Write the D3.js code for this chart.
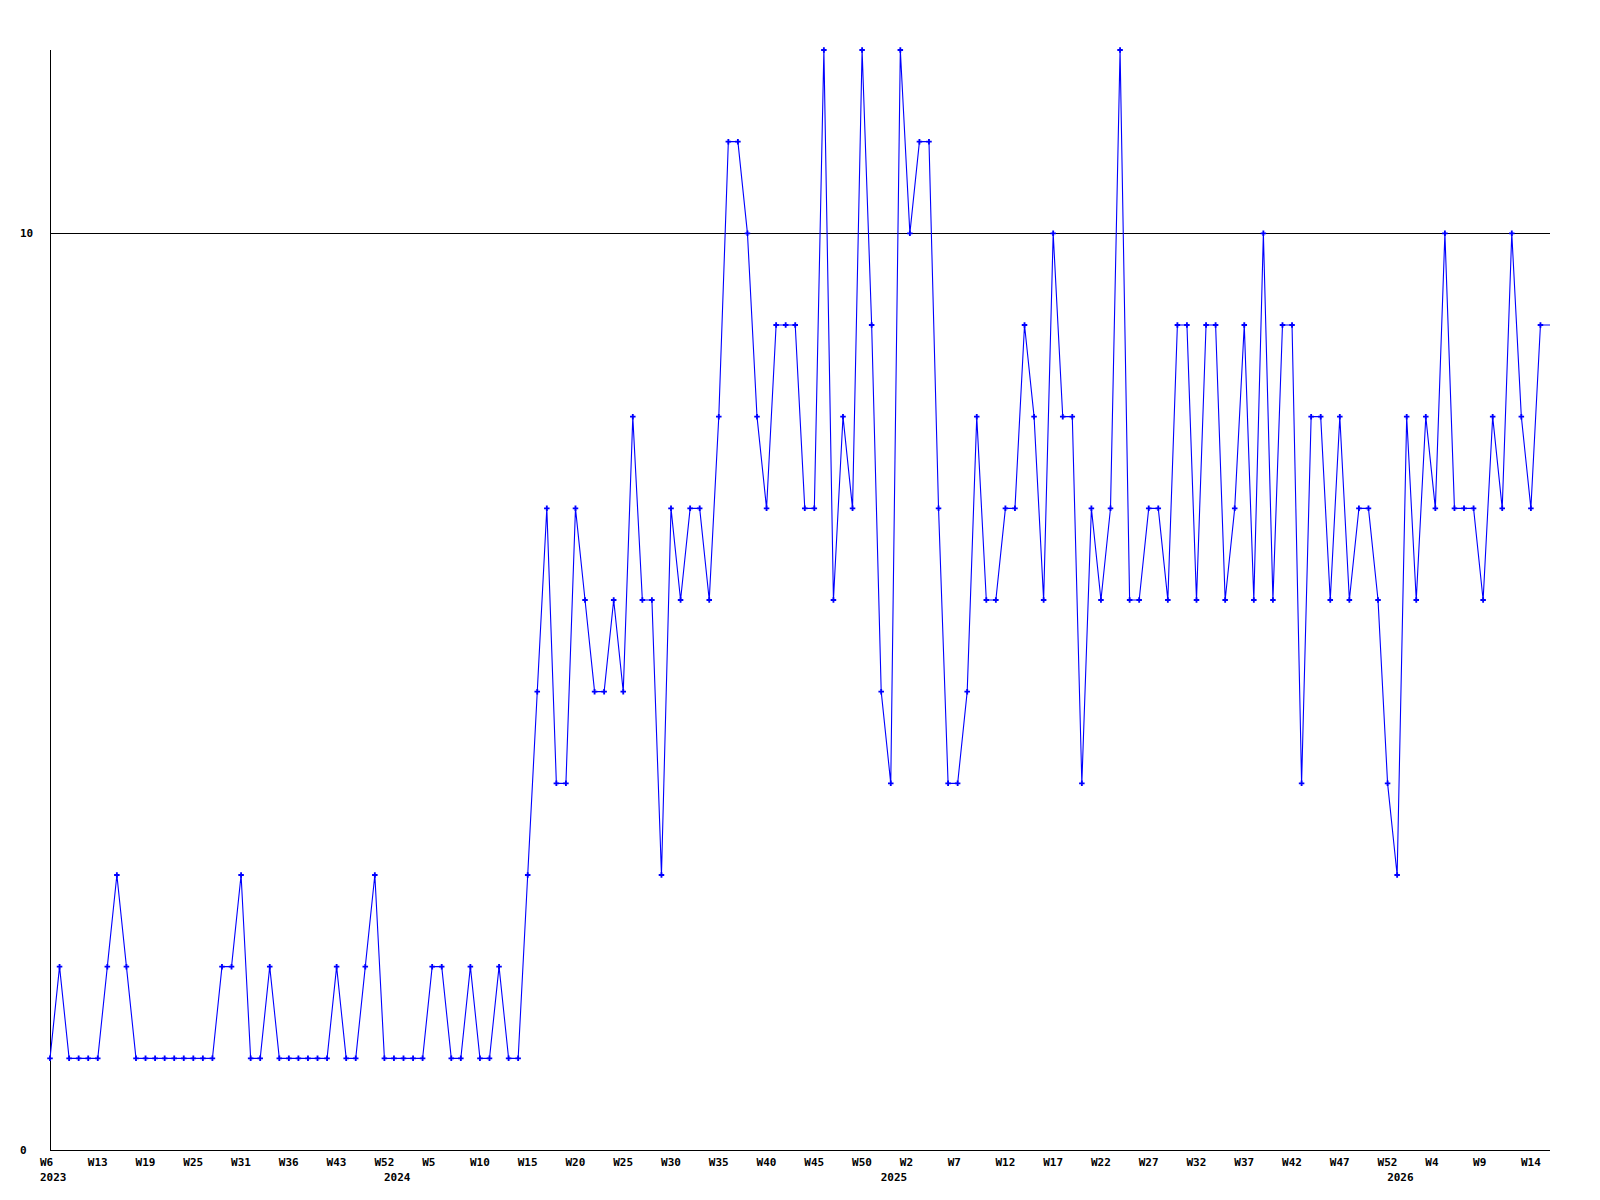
<!DOCTYPE html>
<html>
<head>
<meta charset="utf-8">
<script src="https://cdn.jsdelivr.net/npm/d3@7"></script>
<style>
  html, body { margin: 0; padding: 0; background: #ffffff; }
  svg text { font-family: "DejaVu Sans Mono", "Liberation Mono", monospace; font-weight: bold; font-size: 11px; fill: #000; }
</style>
</head>
<body>
<svg id="chart" width="1600" height="1200"></svg>
<script>
// Weekly values (one point per recorded week)
const values = [
  1,2,1,1,1,1,2,3,2,1,
  1,1,1,1,1,1,1,1,2,2,
  3,1,1,2,1,1,1,1,1,1,
  2,1,1,2,3,1,1,1,1,1,
  2,2,1,1,2,1,1,2,1,1,
  3,5,7,4,4,7,6,5,5,6,
  5,8,6,6,3,7,6,7,7,6,
  8,11,11,10,8,7,9,9,9,7,
  7,12,6,8,7,12,9,5,4,12,
  10,11,11,7,4,4,5,8,6,6,
  7,7,9,8,6,10,8,8,4,7,
  6,7,12,6,6,7,7,6,9,9,
  6,9,9,6,7,9,6,10,6,9,
  9,4,8,8,6,8,6,7,7,6,
  4,3,8,6,8,7,10,7,7,7,
  6,8,7,10,8,7,9
];

// Week tick labels (one every 5 points) and their point index
const weekTickIndex = [0,5,10,15,20,25,30,35,40,45,50,55,60,65,70,75,80,85,90,95,100,105,110,115,120,125,130,135,140,145,150,155];
const weekTickLabels = ["W6","W13","W19","W25","W31","W36","W43","W52","W5","W10","W15","W20","W25","W30","W35","W40","W45","W50","W2","W7","W12","W17","W22","W27","W32","W37","W42","W47","W52","W4","W9","W14"];

// Year labels and the point index where each year starts
const yearIndex = [0, 36, 88, 141];
const yearLabels = ["2023", "2024", "2025", "2026"];

// Y axis labels
const yTicks = [0, 10];

(function () {
  const svg = d3.select("#chart");
  const mLeft = 50, mRight = 1550, mTop = 50, mBottom = 1150;

  const x = d3.scaleLinear().domain([0, values.length]).range([mLeft, mRight]);
  const y = d3.scaleLinear().domain([0, 12]).range([mBottom, mTop]);

  // Reference line at 10
  svg.append("g").selectAll("line")
    .data(yTicks.filter(d => d > 0))
    .join("line")
    .attr("x1", mLeft).attr("x2", mRight)
    .attr("y1", d => Math.round(y(d)) + 0.5).attr("y2", d => Math.round(y(d)) + 0.5)
    .attr("stroke", "#000").attr("stroke-width", 1).attr("shape-rendering", "crispEdges");

  // Axis lines
  svg.append("line")
    .attr("x1", mLeft + 0.5).attr("x2", mLeft + 0.5)
    .attr("y1", mTop).attr("y2", mBottom)
    .attr("stroke", "#000").attr("shape-rendering", "crispEdges");
  svg.append("line")
    .attr("x1", mLeft).attr("x2", mRight)
    .attr("y1", mBottom + 0.5).attr("y2", mBottom + 0.5)
    .attr("stroke", "#000").attr("shape-rendering", "crispEdges");

  // Y labels
  svg.append("g").selectAll("text")
    .data(yTicks)
    .join("text")
    .attr("x", 20)
    .attr("y", d => y(d))
    .attr("dy", "0.35em")
    .text(d => d);

  // X week labels
  svg.append("g").selectAll("text")
    .data(weekTickIndex)
    .join("text")
    .attr("x", d => x(d) - 10)
    .attr("y", 1166)
    .text((d, i) => weekTickLabels[i]);

  // Year labels
  svg.append("g").selectAll("text")
    .data(yearIndex)
    .join("text")
    .attr("x", d => x(d) - 10)
    .attr("y", 1181)
    .text((d, i) => yearLabels[i]);

  // Line (extends flat to the right edge of the plot)
  const pts = values.map((v, i) => [x(i), y(v)]);
  pts.push([x(values.length), y(values[values.length - 1])]);
  svg.append("path")
    .attr("d", d3.line()(pts))
    .attr("fill", "none")
    .attr("stroke", "#0000ff")
    .attr("stroke-width", 1.1);

  // Markers
  svg.append("g").selectAll("path")
    .data(values)
    .join("path")
    .attr("transform", (d, i) => `translate(${x(i)},${y(d)})`)
    .attr("d", d3.symbol().type(d3.symbolCross).size(17))
    .attr("fill", "#0000ff");
})();
</script>
</body>
</html>
